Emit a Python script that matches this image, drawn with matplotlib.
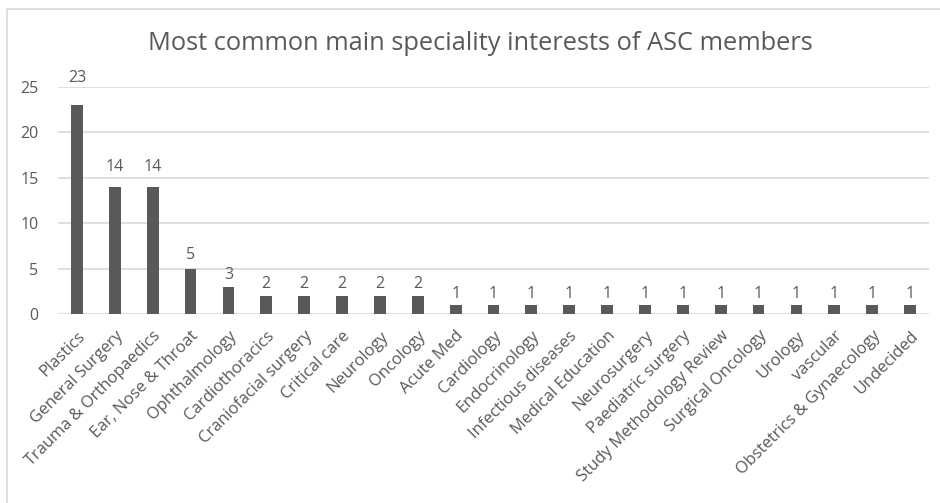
import matplotlib
matplotlib.use("Agg")
import matplotlib.pyplot as plt
from matplotlib.patches import Rectangle

categories = ["Plastics", "General Surgery", "Trauma & Orthopaedics", "Ear, Nose & Throat",
              "Ophthalmology", "Cardiothoracics", "Craniofacial surgery", "Critical care",
              "Neurology", "Oncology", "Acute Med", "Cardiology", "Endocrinology",
              "Infectious diseases", "Medical Education", "Neurosurgery", "Paediatric surgery",
              "Study Methodology Review", "Surgical Oncology", "Urology", "vascular",
              "Obstetrics & Gynaecology", "Undecided"]
values = [23, 14, 14, 5, 3, 2, 2, 2, 2, 2, 1, 1, 1, 1, 1, 1, 1, 1, 1, 1, 1, 1, 1]
yticks = [0, 5, 10, 15, 20, 25]
title = "Most common main speciality interests of ASC members"

plt.rcParams['font.family'] = ['Open Sans', 'DejaVu Sans']
W, H = 940, 503
fig = plt.figure(figsize=(W/100, H/100), dpi=100)
fig.patches.append(Rectangle((7/W, -0.1), 2, 1.1 - 9/H, transform=fig.transFigure,
                             fill=False, edgecolor='#d9d9d9', lw=1.2))
ax = fig.add_axes([58/W, 1-314/H, (929-58)/W, (314-87)/H])
txt = '#595959'
x = range(len(categories))
ax.bar(x, values, width=0.31, color='#595959', zorder=3)
ax.set_xlim(-0.5, len(categories)-0.5)
ax.set_ylim(0, 25)
ax.set_yticks(yticks)
ax.set_yticklabels([str(t) for t in yticks], fontsize=11.5, color=txt)
ax.yaxis.grid(True, color='#d9d9d9', lw=1.2, zorder=0)
for s in ax.spines.values():
    s.set_visible(False)
ax.tick_params(axis='y', length=0, pad=14)
ax.tick_params(axis='x', length=0, pad=10)
ax.set_xticks(list(x))
ax.set_xticklabels(categories, rotation=45, ha='right', rotation_mode='anchor',
                   fontsize=11.9, color=txt)
for xi, v in zip(x, values):
    ax.annotate(str(v), (xi, v), xytext=(0, 1.5 + 0.52 * v), textcoords='offset points',
                ha='center', va='bottom', fontsize=11.5, color=txt)
fig.text(480/W, 1-44/H, title, ha='center', va='center', fontsize=18.3, color=txt)
fig.savefig("out.png", dpi=100)
